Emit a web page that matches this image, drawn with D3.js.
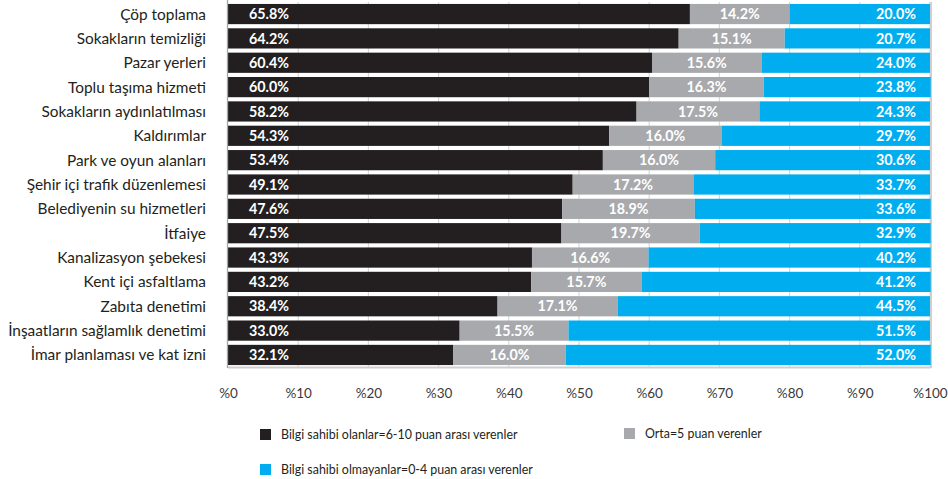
<!DOCTYPE html>
<html>
<head>
<meta charset="utf-8">
<script src="https://cdn.jsdelivr.net/npm/d3@7"></script>
<style>
  body { margin: 0; background: #fff; }
  svg { display: block; font-family: Lato, "Open Sans", sans-serif; }
</style>
</head>
<body>
<svg id="chart" width="948" height="479"></svg>
<script>
const categories = [
  "Çöp toplama",
  "Sokakların temizliği",
  "Pazar yerleri",
  "Toplu taşıma hizmeti",
  "Sokakların aydınlatılması",
  "Kaldırımlar",
  "Park ve oyun alanları",
  "Şehir içi trafik düzenlemesi",
  "Belediyenin su hizmetleri",
  "İtfaiye",
  "Kanalizasyon şebekesi",
  "Kent içi asfaltlama",
  "Zabıta denetimi",
  "İnşaatların sağlamlık denetimi",
  "İmar planlaması ve kat izni"
];
const informed = [65.8, 64.2, 60.4, 60.0, 58.2, 54.3, 53.4, 49.1, 47.6, 47.5, 43.3, 43.2, 38.4, 33.0, 32.1];
const middle   = [14.2, 15.1, 15.6, 16.3, 17.5, 16.0, 16.0, 17.2, 18.9, 19.7, 16.6, 15.7, 17.1, 15.5, 16.0];
const uninformed = [20.0, 20.7, 24.0, 23.8, 24.3, 29.7, 30.6, 33.7, 33.6, 32.9, 40.2, 41.2, 44.5, 51.5, 52.0];
const tickValues = [0, 10, 20, 30, 40, 50, 60, 70, 80, 90, 100];
const seriesNames = [
  "Bilgi sahibi olanlar=6-10 puan arası verenler",
  "Orta=5 puan verenler",
  "Bilgi sahibi olmayanlar=0-4 puan arası verenler"
];
const colors = ["#231f20", "#a7a9ac", "#00aeef"];

const svg = d3.select("#chart");
const plotLeft = 228, plotRight = 930, plotTop = 2, plotBottom = 367;

const x = d3.scaleLinear().domain([0, 100]).range([plotLeft, plotRight]);
const y = d3.scaleBand().domain(categories).range([plotTop, plotBottom]).paddingInner(0.17).paddingOuter(0.08);

const rows = categories.map((c, i) => ({ cat: c, vals: [informed[i], middle[i], uninformed[i]] }));
const keys = [0, 1, 2];
const stacked = d3.stack().keys(keys).value((d, k) => d.vals[k])(rows);

// vertical gridlines
svg.append("g").selectAll("line").data(tickValues.slice(1)).join("line")
  .attr("x1", d => x(d)).attr("x2", d => x(d))
  .attr("y1", plotTop).attr("y2", plotBottom)
  .attr("stroke", "#d9d9d9").attr("stroke-width", 1.2);

// plot frame: bottom and right edges
svg.append("line").attr("x1", plotLeft).attr("x2", plotRight + 1).attr("y1", plotBottom + 0.5).attr("y2", plotBottom + 0.5)
  .attr("stroke", "#cfcfcf").attr("stroke-width", 2);
svg.append("line").attr("x1", plotRight + 1).attr("x2", plotRight + 1).attr("y1", plotTop).attr("y2", plotBottom + 1)
  .attr("stroke", "#cfcfcf").attr("stroke-width", 2);

// bars
const layers = svg.append("g").selectAll("g").data(stacked).join("g")
  .attr("fill", (d, i) => colors[i]);
layers.selectAll("rect").data(d => d).join("rect")
  .attr("x", d => x(d[0]))
  .attr("width", d => x(d[1]) - x(d[0]))
  .attr("y", d => y(d.data.cat))
  .attr("height", y.bandwidth());

// left axis line
svg.append("line").attr("x1", plotLeft - 0.5).attr("x2", plotLeft - 0.5).attr("y1", 0).attr("y2", plotBottom + 1)
  .attr("stroke", "#a6a6a6").attr("stroke-width", 1.3);

// value labels
const labelG = svg.append("g").attr("fill", "#fff").attr("font-weight", "bold").attr("font-size", 14.3);
stacked.forEach((layer, i) => {
  labelG.append("g").selectAll("text").data(layer).join("text")
    .attr("x", d => i === 0 ? x(0) + 21 : i === 1 ? (x(d[0]) + x(d[1])) / 2 : x(100) - 14)
    .attr("text-anchor", i === 0 ? "start" : i === 1 ? "middle" : "end")
    .attr("y", d => y(d.data.cat) + y.bandwidth() / 2)
    .attr("dy", "0.36em")
    .text(d => d.data.vals[i].toFixed(1) + "%");
});

// category labels
svg.append("g").selectAll("text").data(categories).join("text")
  .attr("x", 206)
  .attr("y", d => y(d) + y.bandwidth() / 2)
  .attr("dy", "0.36em")
  .attr("text-anchor", "end")
  .attr("font-size", 15.4)
  .attr("fill", "#231f20")
  .text(d => d);

// x axis tick labels
const xAxis = d3.axisBottom(x).tickValues(tickValues).tickSize(0).tickPadding(0).tickFormat(d => "%" + d);
const ax = svg.append("g").attr("transform", `translate(0, 393)`).call(xAxis);
ax.select(".domain").remove();
ax.selectAll("text").attr("font-size", 13.5).attr("fill", "#3a3a3a").attr("dy", "0.36em")
  .attr("font-family", "Lato, 'Open Sans', sans-serif");

// legend
const legendItems = [
  { i: 0, x: 260, y: 429 },
  { i: 1, x: 624, y: 428 },
  { i: 2, x: 260, y: 464 }
];
const lg = svg.append("g").selectAll("g").data(legendItems).join("g")
  .attr("transform", d => `translate(${d.x},${d.y})`);
lg.append("rect").attr("width", 11).attr("height", 11).attr("fill", d => colors[d.i]);
lg.append("text").attr("x", 21).attr("y", 5.5).attr("dy", "0.36em")
  .attr("font-size", 12.4).attr("fill", "#231f20")
  .text(d => seriesNames[d.i]);
</script>
</body>
</html>
